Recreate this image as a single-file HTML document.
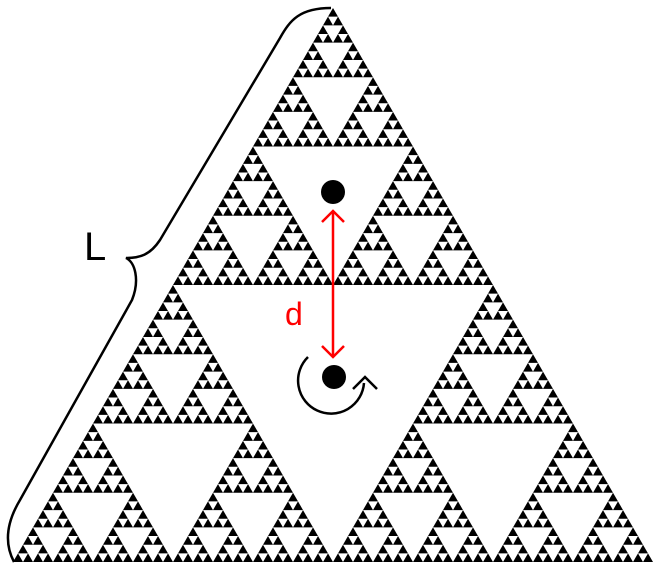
<!DOCTYPE html>
<html><head><style>html,body{margin:0;padding:0;background:#fff}svg{display:block}</style></head>
<body>
<svg width="661" height="577" viewBox="0 0 661 577" xmlns="http://www.w3.org/2000/svg">
<defs>
<polygon id="g0" points="0,554 640,554 320,0" fill="#000"/>
<g id="g1"><use href="#g0" transform="translate(0,277) scale(0.5)"/><use href="#g0" transform="translate(320,277) scale(0.5)"/><use href="#g0" transform="translate(160,0) scale(0.5)"/></g>
<g id="g2"><use href="#g1" transform="translate(0,277) scale(0.5)"/><use href="#g1" transform="translate(320,277) scale(0.5)"/><use href="#g1" transform="translate(160,0) scale(0.5)"/></g>
<g id="g3"><use href="#g2" transform="translate(0,277) scale(0.5)"/><use href="#g2" transform="translate(320,277) scale(0.5)"/><use href="#g2" transform="translate(160,0) scale(0.5)"/></g>
<g id="g4"><use href="#g3" transform="translate(0,277) scale(0.5)"/><use href="#g3" transform="translate(320,277) scale(0.5)"/><use href="#g3" transform="translate(160,0) scale(0.5)"/></g>
<g id="g5"><use href="#g4" transform="translate(0,277) scale(0.5)"/><use href="#g4" transform="translate(320,277) scale(0.5)"/><use href="#g4" transform="translate(160,0) scale(0.5)"/></g>
<g id="g6"><use href="#g5" transform="translate(0,277) scale(0.5)"/><use href="#g5" transform="translate(320,277) scale(0.5)"/><use href="#g5" transform="translate(160,0) scale(0.5)"/></g>
</defs>
<use href="#g6" transform="translate(13,8)"/>
<path d="M331,8 C300,8 290,20 280,38 L160,240 C150,255 140,258 126,258 C135,262 140,280 132,300 L20,500 C5,525 5,545 14,562" fill="none" stroke="#000" stroke-width="2.5"/>
<text x="84" y="260" font-family="Liberation Sans, sans-serif" font-size="40" fill="#000">L</text>
<circle cx="333" cy="192" r="12" fill="#000"/>
<circle cx="334" cy="377" r="12" fill="#000"/>
<line x1="333" y1="211" x2="333" y2="357" stroke="#f00" stroke-width="2.5"/>
<path d="M322,222 L333,211 L344,222 M322,346 L333,357 L344,346" fill="none" stroke="#f00" stroke-width="2.5"/>
<text x="285" y="325" font-family="Liberation Sans, sans-serif" font-size="32" fill="#f00">d</text>
<path d="M308,357 A33,33 0 1 0 364,383" fill="none" stroke="#000" stroke-width="2.5"/>
<path d="M353,389 L365,377 L377,389" fill="none" stroke="#000" stroke-width="2.5"/>
</svg>
</body></html>
